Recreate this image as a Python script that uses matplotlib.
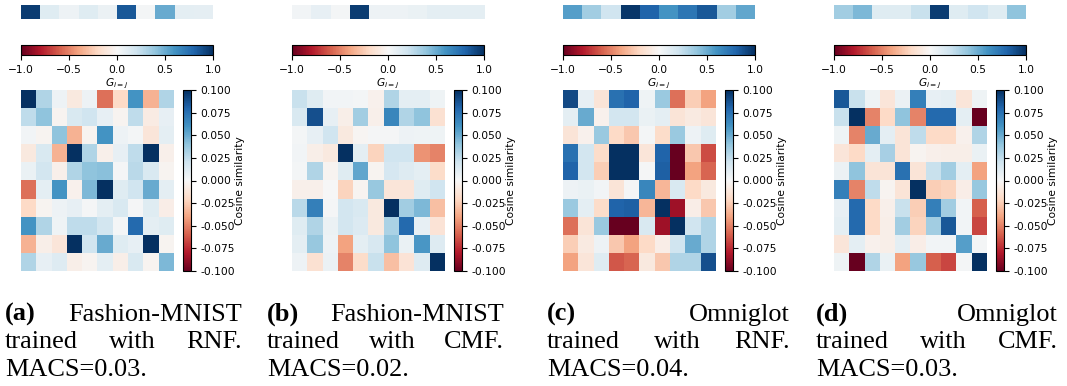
import numpy as np
import matplotlib.pyplot as plt
from matplotlib.cm import ScalarMappable
from matplotlib.colors import Normalize

# diagonal values G_{i=j} shown as the top strip of each panel
diag_a = [0.95, 0.12, 0.05, 0.12, 0.06, 0.85, 0.02, 0.50, 0.10, 0.09]
diag_b = [0.03, 0.08, 0.02, 0.95, 0.05, 0.05, 0.07, 0.10, 0.10, 0.10]
diag_c = [0.55, 0.35, 0.20, 0.97, 0.80, 0.60, 0.72, 0.85, 0.35, 0.52]
diag_d = [0.35, 0.45, 0.12, 0.12, 0.22, 0.95, 0.12, 0.20, 0.12, 0.40]

# cosine similarity matrices (colour scale clipped at +-0.1)
sim_a = [
    [0.100, 0.030, 0.005, -0.010, 0.005, -0.055, -0.020, 0.060, -0.035, 0.030],
    [0.025, 0.040, -0.003, 0.015, 0.020, 0.008, -0.003, 0.025, -0.008, 0.008],
    [0.003, -0.003, 0.040, -0.035, -0.003, 0.060, 0.005, 0.002, -0.012, 0.010],
    [-0.010, 0.015, -0.035, 0.100, 0.030, -0.005, 0.008, 0.025, 0.100, -0.005],
    [0.007, 0.018, -0.005, 0.030, 0.040, 0.042, 0.001, 0.027, 0.015, -0.003],
    [-0.055, 0.010, 0.060, -0.004, 0.045, 0.100, 0.012, 0.020, 0.050, 0.010],
    [-0.020, -0.003, 0.005, 0.008, 0.001, 0.010, 0.015, 0.001, 0.012, -0.007],
    [0.060, 0.030, 0.004, 0.025, 0.025, 0.018, 0.002, 0.078, 0.010, 0.012],
    [-0.035, -0.006, -0.012, 0.100, 0.020, 0.050, 0.012, 0.008, 0.100, -0.003],
    [0.030, 0.008, 0.013, -0.006, -0.003, 0.010, -0.006, 0.015, -0.003, 0.045],
]
sim_b = [
    [0.022, 0.012, 0.003, 0.003, 0.002, -0.004, 0.030, 0.010, 0.010, 0.004],
    [0.015, 0.088, 0.008, -0.006, 0.035, -0.005, 0.065, 0.030, 0.040, -0.015],
    [0.002, 0.008, 0.020, -0.010, -0.002, 0.001, 0.001, 0.005, 0.004, 0.004],
    [0.003, -0.006, -0.010, 0.100, 0.010, -0.022, 0.020, 0.020, -0.045, -0.050],
    [0.002, 0.030, -0.003, 0.012, 0.052, -0.003, 0.017, 0.013, 0.010, -0.018],
    [-0.005, -0.005, 0.000, -0.022, -0.003, 0.038, -0.012, -0.012, 0.012, 0.020],
    [0.027, 0.068, 0.001, 0.018, 0.015, -0.010, 0.100, 0.035, 0.045, -0.030],
    [0.012, 0.030, 0.006, 0.018, 0.014, -0.010, 0.032, 0.078, 0.008, -0.014],
    [0.010, 0.038, 0.005, -0.040, 0.010, 0.016, 0.040, 0.007, 0.058, 0.013],
    [0.005, -0.015, 0.006, -0.050, -0.018, 0.022, -0.030, -0.014, 0.013, 0.100],
]
sim_c = [
    [0.090, 0.008, -0.013, 0.075, 0.080, 0.004, 0.037, -0.055, -0.025, -0.040],
    [0.010, 0.050, -0.004, 0.018, 0.018, 0.007, 0.010, -0.013, -0.009, -0.012],
    [-0.013, -0.004, 0.037, -0.020, -0.027, 0.002, -0.018, 0.037, 0.005, 0.012],
    [0.075, 0.018, -0.018, 0.100, 0.100, -0.012, 0.080, -0.100, -0.027, -0.065],
    [0.080, 0.018, -0.025, 0.100, 0.100, 0.001, 0.082, -0.100, -0.040, -0.058],
    [0.005, 0.007, 0.003, -0.013, 0.001, 0.065, -0.033, 0.015, -0.020, -0.010],
    [0.037, 0.010, -0.018, 0.080, 0.082, -0.033, 0.100, -0.085, -0.007, -0.027],
    [-0.055, -0.013, 0.037, -0.100, -0.100, 0.015, -0.085, 0.100, 0.020, 0.030],
    [-0.025, -0.009, 0.005, -0.027, -0.040, -0.020, -0.007, 0.020, 0.050, 0.030],
    [-0.040, -0.012, 0.012, -0.062, -0.058, -0.010, -0.027, 0.030, 0.030, 0.088],
]
sim_d = [
    [0.085, 0.022, 0.004, -0.012, 0.006, 0.068, 0.008, 0.010, -0.012, 0.004],
    [0.022, 0.100, -0.050, -0.020, 0.040, -0.050, 0.078, 0.078, 0.010, -0.100],
    [0.004, -0.050, 0.050, 0.010, -0.013, 0.025, -0.020, -0.020, -0.004, 0.030],
    [-0.012, -0.020, 0.010, 0.033, -0.013, -0.003, -0.005, -0.006, -0.006, 0.007],
    [0.006, 0.040, -0.013, -0.013, 0.075, -0.013, 0.022, 0.035, 0.010, -0.040],
    [0.068, -0.050, 0.025, -0.003, -0.013, 0.100, -0.025, -0.022, -0.007, 0.038],
    [0.008, 0.078, -0.020, -0.005, 0.022, -0.025, 0.068, 0.035, 0.003, -0.060],
    [0.010, 0.078, -0.020, -0.006, 0.035, -0.022, 0.035, 0.085, 0.003, -0.067],
    [-0.012, 0.010, -0.004, -0.006, 0.010, -0.007, 0.003, 0.003, 0.055, 0.002],
    [0.004, -0.100, 0.030, 0.007, -0.040, 0.038, -0.060, -0.067, 0.002, 0.100],
]

tags = ['(a)', '(b)', '(c)', '(d)']
datasets = ['Fashion-MNIST', 'Fashion-MNIST', 'Omniglot', 'Omniglot']
methods = ['RNF.', 'CMF.', 'RNF.', 'CMF.']
macs = ['0.03', '0.02', '0.04', '0.03']

W, H = 1067, 386
fig = plt.figure(figsize=(W / 100, H / 100), dpi=100)


def ax_px(x, y, w, h):
    # place an axes using pixel coords measured from the top-left corner
    return fig.add_axes([x / W, 1 - (y + h) / H, w / W, h / H])


tick_fs = 7.7
diags = [diag_a, diag_b, diag_c, diag_d]
sims = [sim_a, sim_b, sim_c, sim_d]

for i in range(4):
    x0 = 21 + 271 * i

    ax = ax_px(x0, 5, 192, 14)
    ax.imshow(np.array(diags[i])[None, :], cmap='RdBu', vmin=-1, vmax=1, aspect='auto')
    ax.axis('off')

    cax = ax_px(x0, 45, 192, 10)
    cb = fig.colorbar(ScalarMappable(norm=Normalize(-1, 1), cmap='RdBu'),
                      cax=cax, orientation='horizontal')
    cb.set_ticks([-1.0, -0.5, 0.0, 0.5, 1.0])
    cb.ax.tick_params(labelsize=tick_fs)
    cb.set_label('$G_{i=j}$', fontsize=tick_fs, labelpad=1)

    ax = ax_px(x0, 90, 153, 181)
    im = ax.imshow(np.array(sims[i]), cmap='RdBu', vmin=-0.1, vmax=0.1, aspect='auto')
    ax.axis('off')

    cax = ax_px(x0 + 162, 90, 8, 181)
    cb = fig.colorbar(im, cax=cax)
    cb.set_ticks([-0.1, -0.075, -0.05, -0.025, 0.0, 0.025, 0.05, 0.075, 0.1])
    cb.ax.set_yticklabels(['%.3f' % v for v in cb.get_ticks()])
    cb.ax.tick_params(labelsize=tick_fs)
    cb.set_label('Cosine similarity', fontsize=tick_fs, labelpad=0)

# captions, justified like the LaTeX subcaptions
cap_left = [5, 267, 547, 816]
cap_right = [242, 504, 790, 1058]
baselines = [321, 348.5, 376.5]
renderer = fig.canvas.get_renderer()


def justify(words, bold, left, right, base):
    texts = []
    for k, w in enumerate(words):
        t = fig.text(0, 1 - base / H, w, fontsize=18.9, family='Liberation Serif',
                     weight='bold' if bold[k] else 'normal', va='baseline')
        texts.append(t)
    widths = [t.get_window_extent(renderer).width for t in texts]
    gap = 0 if len(words) == 1 else ((right - left) - sum(widths)) / (len(words) - 1)
    x = left
    for t, w in zip(texts, widths):
        t.set_x(x / W)
        x += w + gap


for i in range(4):
    l, r = cap_left[i], cap_right[i]
    justify([tags[i], datasets[i]], [True, False], l, r, baselines[0])
    justify(['trained', 'with', methods[i]], [False] * 3, l, r, baselines[1])
    justify(['MACS=' + macs[i] + '.'], [False], l, r, baselines[2])

fig.savefig('out.png', dpi=100)
